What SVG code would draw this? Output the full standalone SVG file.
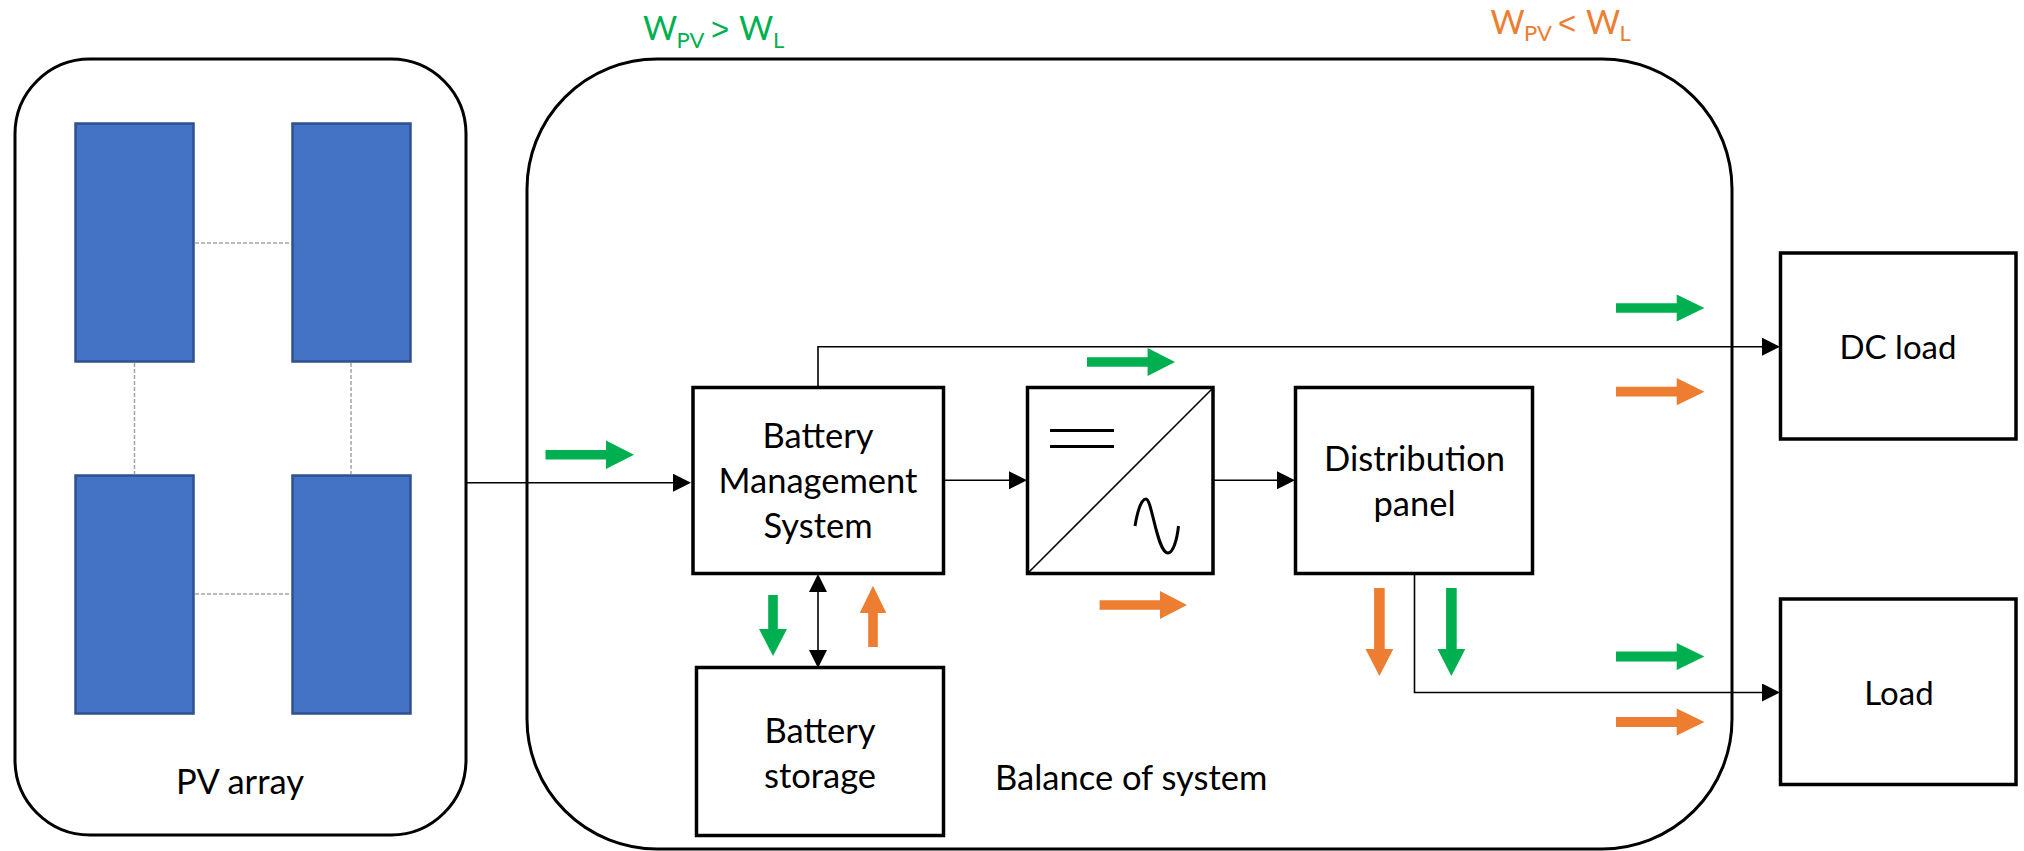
<svg xmlns="http://www.w3.org/2000/svg" width="2024" height="851" viewBox="0 0 2024 851">
<style>
text{font-family:"Lato","Liberation Sans",sans-serif;font-size:34.500px;fill:#000}
.m{text-anchor:middle}
.box{fill:#fff;stroke:#000;stroke-width:3.5}
.group{fill:#fff;stroke:#000;stroke-width:3}
.panel{fill:#4472C4;stroke:#2F528F;stroke-width:2.5}
.dash{fill:none;stroke:#A5A5A5;stroke-width:1.5;stroke-dasharray:4 2}
.wire{fill:none;stroke:#000;stroke-width:1.6}
.g{fill:#00B050}.o{fill:#ED7D31}
text.gt{fill:#00B050}text.ot{fill:#ED7D31}
text.w{font-size:33px}
text.n{font-size:33px}
.sub{font-size:22px}
.cmp{font-family:"Liberation Sans",sans-serif;font-size:31px}
</style>
<defs>
<marker id="tip" markerUnits="userSpaceOnUse" markerWidth="18" markerHeight="18" refX="13" refY="9" orient="auto-start-reverse"><path d="M0 0L18 9L0 18Z" fill="#000"/></marker>
</defs>
<g id="pv-array"><rect class="group" x="15" y="59" width="451" height="776" rx="75" ry="75"/>
<rect class="panel" x="75.500" y="123.500" width="118" height="238"/>
<rect class="panel" x="292.500" y="123.500" width="118" height="238"/>
<rect class="panel" x="75.500" y="475.500" width="118" height="238"/>
<rect class="panel" x="292.500" y="475.500" width="118" height="238"/>
<path class="dash" d="M195 243H291M195 594H291M134.500 363V474M351 363V474"/>
<text class="m" x="240" y="794">PV array</text></g>
<g id="balance"><rect class="group" x="527" y="59" width="1205" height="790" rx="130" ry="130"/>
<text x="995" y="790">Balance of system</text></g>
<g id="bms"><rect class="box" x="693" y="387.500" width="250.500" height="186"/>
<text class="m" x="818" y="448">Battery</text><text class="m" x="818" y="493">Management</text><text class="m" x="818" y="538">System</text></g>
<g id="converter"><rect class="box" x="1027.500" y="387.500" width="185.500" height="186"/>
<path class="wire" d="M1213 388L1028 573"/>
<path fill="none" stroke="#000" stroke-width="3" d="M1050 430.500H1114M1050 446.500H1114"/>
<path fill="none" stroke="#000" stroke-width="3" d="M1135 526C1138 508 1142 499 1146 499C1152 499 1157 553 1168 553C1173 553 1177 540 1178.500 526"/></g>
<g id="distribution"><rect class="box" x="1295.500" y="387.500" width="237" height="186"/>
<text class="m" x="1414.500" y="471">Distribution</text><text class="m" x="1414.500" y="516">panel</text></g>
<g id="storage"><rect class="box" x="696.500" y="667.500" width="247" height="168"/>
<text class="m" x="820" y="743">Battery</text><text class="m" x="820" y="788">storage</text></g>
<g id="dc-load"><rect class="box" x="1780.500" y="253" width="235.500" height="186"/>
<text class="m n" x="1898" y="359">DC load</text></g>
<g id="load"><rect class="box" x="1780.500" y="599" width="235.500" height="185.500"/>
<text class="m n" x="1899" y="705">Load</text></g>
<g id="connectors">
<path class="wire" marker-end="url(#tip)" d="M466 482.700H686"/>
<path class="wire" marker-end="url(#tip)" d="M818 387V346.700H1775"/>
<path class="wire" marker-end="url(#tip)" d="M943.500 480.300H1022"/>
<path class="wire" marker-end="url(#tip)" d="M1213.500 480.300H1290"/>
<path class="wire" marker-start="url(#tip)" marker-end="url(#tip)" d="M818 579V663"/>
<path class="wire" marker-end="url(#tip)" d="M1414.500 573V692.500H1775"/>
</g>
<g id="flow-arrows">
<path class="g" d="M545.500 450H606V440.500L634 454.700L606 469V459.500H545.500Z"/>
<path class="g" d="M1087 357.300H1147.600V348L1175 362L1147.600 376V366.700H1087Z"/>
<path class="o" d="M1099.600 600.300H1160V591L1187 605L1160 619V609.700H1099.600Z"/>
<path class="g" d="M1616 303.200H1676.700V294.400L1704.400 308L1676.700 321.600V312.800H1616Z"/>
<path class="o" d="M1616 386.800H1676.700V378L1704.400 391.700L1676.700 405.300V396.600H1616Z"/>
<path class="g" d="M1616 651.600H1676.700V642.900L1704.400 656.500L1676.700 670.100V661.400H1616Z"/>
<path class="o" d="M1616 717.100H1676.700V708.400L1704.400 722L1676.700 735.600V726.900H1616Z"/>
<path class="g" d="M768.200 595H777.800V629H787L773 656L759 629H768.200Z"/>
<path class="o" d="M868.200 647H877.800V613H886.300L873 585.700L859.700 613H868.200Z"/>
<path class="o" d="M1374.100 588H1384.700V649H1393.300L1379.400 676L1365.500 649H1374.100Z"/>
<path class="g" d="M1446.100 588H1456.700V649H1465.300L1451.400 676L1437.500 649H1446.100Z"/>
</g>
<g id="labels">
<text class="gt w" x="643" y="40">W<tspan class="sub" x="676.500" y="48">PV</tspan><tspan class="cmp" x="711" y="40">&gt;</tspan><tspan x="739" y="40">W</tspan><tspan class="sub" x="773" y="48">L</tspan></text>
<text class="ot w" x="1490.500" y="33.500">W<tspan class="sub" x="1524" y="41">PV</tspan><tspan class="cmp" x="1558" y="33.500">&lt;</tspan><tspan x="1586" y="33.500">W</tspan><tspan class="sub" x="1619.500" y="41">L</tspan></text>
</g>
</svg>
